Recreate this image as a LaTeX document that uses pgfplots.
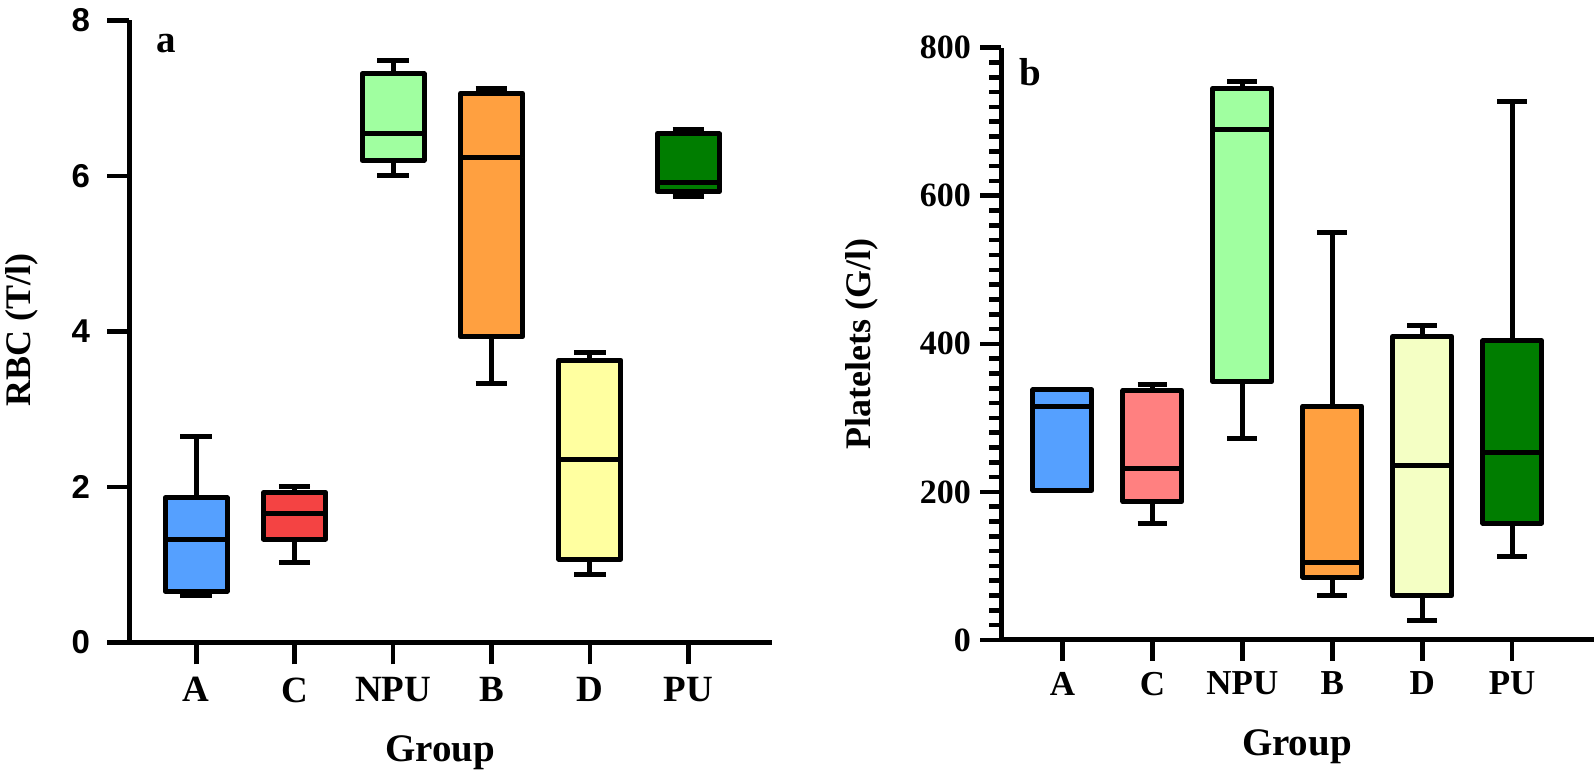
\documentclass[border=0pt]{standalone}
\usepackage{fontspec}
\setmainfont{Liberation Serif}
\newfontfamily\arial{Liberation Sans}
\usepackage{pgfplots}
\pgfplotsset{compat=1.18}
\usepgfplotslibrary{statistics}

\definecolor{cA}{HTML}{55A0FF}
\definecolor{cCl}{HTML}{F44343}
\definecolor{cCr}{HTML}{FF8080}
\definecolor{cNPU}{HTML}{A0FFA0}
\definecolor{cB}{HTML}{FFA040}
\definecolor{cDl}{HTML}{FFFFA0}
\definecolor{cDr}{HTML}{F4FFC4}
\definecolor{cPU}{HTML}{007D00}

\pgfplotsset{
  base/.style={
    scale only axis,
    axis lines=left,
    axis line style={-, line width=2.5pt, black},
    tick style={line width=2.3pt, black},
    tick align=outside,
    major tick length=11pt,
    minor tick length=6pt,
    xtick={0,1,2,3,4,5},
    xticklabels={A,C,NPU,B,D,PU},
    xmin=-0.683,
    clip=false,
    label style={font=\fontsize{18}{20}\selectfont\bfseries},
    boxplot/draw direction=y,
  },
}

% #1 pos, #2 lower whisker, #3 lower quartile, #4 median, #5 upper quartile, #6 upper whisker, #7 fill, #8 box extend, #9 whisker extend
\newcommand\bx[9]{%
  \addplot[draw=black, line width=2.5pt, line join=round, fill=#7,
    boxplot prepared={draw position=#1, lower whisker=#2, lower quartile=#3,
      median=#4, upper quartile=#5, upper whisker=#6,
      box extend=#8, whisker extend=#9}] coordinates {};}

\begin{document}
\begin{tikzpicture}
\useasboundingbox (0,0) rectangle (797pt,387pt);

% ---------------- Panel a ----------------
\begin{axis}[base,
  at={(64.5pt,65.75pt)}, anchor=south west,
  width=321.5pt, height=311.1pt,
  xmax=5.85, ymin=0, ymax=8,
  ytick={0,2,4,6,8}, yticklabels={0,2,4,6,8},
  yticklabel style={font=\arial\fontsize{16.5}{18}\selectfont\bfseries, xshift=-5pt},
  xticklabel style={font=\fontsize{18.5}{20}\selectfont\bfseries, yshift=-3pt},
  xlabel={Group},
  xlabel style={at={(axis description cs:0.484,-0.177)}, anchor=center, font=\fontsize{19.5}{21}\selectfont\bfseries},
  ylabel={RBC (T/l)},
  ylabel style={at={(axis description cs:-0.166,0.502)}, anchor=center, rotate=0},
]
\bx{0}{0.60}{0.66}{1.33}{1.86}{2.65}{cA}{0.63}{0.32}
\bx{1}{1.03}{1.33}{1.66}{1.93}{2.00}{cCl}{0.63}{0.32}
\bx{2}{6.01}{6.20}{6.54}{7.31}{7.48}{cNPU}{0.63}{0.32}
\bx{3}{3.33}{3.93}{6.23}{7.06}{7.12}{cB}{0.63}{0.32}
\bx{4}{0.88}{1.07}{2.35}{3.63}{3.73}{cDl}{0.63}{0.32}
\bx{5}{5.74}{5.80}{5.91}{6.54}{6.59}{cPU}{0.63}{0.32}
\node[font=\fontsize{19.5}{21}\selectfont\bfseries] at (rel axis cs:0.058,0.962) {a};
\end{axis}

% ---------------- Panel b ----------------
\begin{axis}[base,
  at={(500.5pt,67pt)}, anchor=south west,
  width=296.5pt, height=296.15pt,
  xmax=5.91, ymin=0, ymax=800,
  ytick={0,200,400,600,800}, yticklabels={0,200,400,600,800},
  minor y tick num=9,
  major tick length=10.5pt,
  yticklabel style={font=\fontsize{17}{19}\selectfont\bfseries, xshift=-1pt},
  xticklabel style={font=\fontsize{17.5}{19}\selectfont\bfseries, yshift=-2pt},
  xlabel={Group},
  xlabel style={at={(axis description cs:0.499,-0.18)}, anchor=center, font=\fontsize{19.5}{21}\selectfont\bfseries},
  ylabel={Platelets (G/l)},
  ylabel style={at={(axis description cs:-0.234,0.499)}, anchor=center, rotate=0},
]
\bx{0}{202}{202}{316}{338}{338}{cA}{0.655}{0.33}
\bx{1}{157}{187}{231}{337}{345}{cCr}{0.655}{0.33}
\bx{2}{272}{349}{689}{745}{755}{cNPU}{0.655}{0.33}
\bx{3}{60}{85}{104}{316}{550}{cB}{0.655}{0.33}
\bx{4}{27}{60}{236}{410}{425}{cDr}{0.655}{0.33}
\bx{5}{113}{158}{253}{404}{727}{cPU}{0.655}{0.33}
\node[font=\fontsize{19.5}{21}\selectfont\bfseries] at (rel axis cs:0.049,0.959) {b};
\end{axis}
\end{tikzpicture}
\end{document}
